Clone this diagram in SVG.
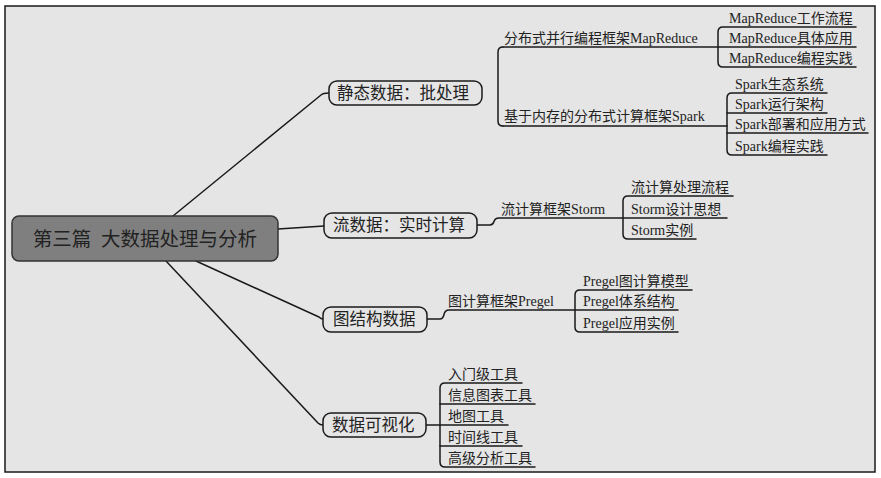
<svg xmlns="http://www.w3.org/2000/svg" width="881" height="478" viewBox="0 0 881 478">
<style>
.ln{fill:none;stroke:#1a1a1a;stroke-width:1.5;stroke-linecap:round;stroke-linejoin:round}
.box{fill:#e5e5e5;stroke:#1a1a1a;stroke-width:1.5}
.t{font-family:"Liberation Serif","Noto Sans CJK SC",serif;fill:#222}
.c{font-size:14px}
.m{font-size:16.5px}
</style>
<rect x="0" y="0" width="881" height="478" fill="#ffffff"/>
<rect x="5" y="6" width="870" height="466" fill="#e5e5e5" stroke="#1a1a1a" stroke-width="1.5"/>

<g id="connectors">
  <path class="ln" d="M173,216 L321,95 Q323,93 329,93"/>
  <path class="ln" d="M278,229 L324,226"/>
  <path class="ln" d="M196,261 L319,317 Q321,319 323,319"/>
  <path class="ln" d="M166,261 L318,423 Q320,425 323,425"/>
  <!-- static bracket -->
  <path class="ln" d="M503,47 Q498,47 498,52 V121 Q498,126 503,126"/>
  <path class="ln" d="M503,47 H856"/>
  <path class="ln" d="M503,126 H727"/>
  <!-- MapReduce bracket -->
  <path class="ln" d="M856,27 H723 Q718,27 718,32 V62 Q718,67 723,67 H856"/>
  <!-- Spark bracket -->
  <path class="ln" d="M827,93 H732 Q727,93 727,98 V150 Q727,155 732,155 H827"/>
  <path class="ln" d="M727,113 H827"/>
  <path class="ln" d="M727,133 H868"/>
  <!-- Storm -->
  <path class="ln" d="M477,225 H490 Q493,225 494,221.5 Q495,218 499,218 H727"/>
  <path class="ln" d="M733,196 H628 Q623,196 623,201 V234 Q623,239 628,239 H696"/>
  <!-- Pregel -->
  <path class="ln" d="M427,319 H440 Q443,319 444,314.5 Q445,310 449,310 H678"/>
  <path class="ln" d="M692,290 H580 Q575,290 575,295 V327 Q575,332 580,332 H678"/>
  <!-- Vis -->
  <path class="ln" d="M426,425 H508"/>
  <path class="ln" d="M522,383 H445 Q440,383 440,388 V462 Q440,467 445,467 H535"/>
  <path class="ln" d="M440,404 H535"/>
  <path class="ln" d="M440,446 H522"/>
</g>

<g id="root">
  <rect x="12" y="216" width="266" height="45" rx="7" fill="#7f7f7f" stroke="#333" stroke-width="1.5"/>
  <text class="t" x="145" y="246" font-size="19.5" text-anchor="middle" xml:space="preserve">第三篇  大数据处理与分析</text>
</g>

<g id="n-static">
  <rect class="box" x="329" y="81" width="153" height="24" rx="8"/>
  <text class="t m" x="337" y="99">静态数据：批处理</text>
</g>
<g id="n-mapreduce"><text class="t c" x="504" y="43">分布式并行编程框架MapReduce</text></g>
<g id="n-mr1"><text class="t c" x="729" y="23">MapReduce工作流程</text></g>
<g id="n-mr2"><text class="t c" x="729" y="43">MapReduce具体应用</text></g>
<g id="n-mr3"><text class="t c" x="729" y="63">MapReduce编程实践</text></g>
<g id="n-spark"><text class="t c" x="504" y="121">基于内存的分布式计算框架Spark</text></g>
<g id="n-sp1"><text class="t c" x="735" y="89">Spark生态系统</text></g>
<g id="n-sp2"><text class="t c" x="735" y="109">Spark运行架构</text></g>
<g id="n-sp3"><text class="t c" x="735" y="129">Spark部署和应用方式</text></g>
<g id="n-sp4"><text class="t c" x="735" y="151">Spark编程实践</text></g>

<g id="n-stream">
  <rect class="box" x="324" y="213" width="153" height="25" rx="8"/>
  <text class="t m" x="333" y="231">流数据：实时计算</text>
</g>
<g id="n-storm"><text class="t c" x="501" y="214">流计算框架Storm</text></g>
<g id="n-st1"><text class="t c" x="631" y="192">流计算处理流程</text></g>
<g id="n-st2"><text class="t c" x="631" y="214">Storm设计思想</text></g>
<g id="n-st3"><text class="t c" x="631" y="235">Storm实例</text></g>

<g id="n-graph">
  <rect class="box" x="323" y="307" width="104" height="25" rx="8"/>
  <text class="t m" x="333" y="325">图结构数据</text>
</g>
<g id="n-pregel"><text class="t c" x="448" y="306">图计算框架Pregel</text></g>
<g id="n-pr1"><text class="t c" x="583" y="286">Pregel图计算模型</text></g>
<g id="n-pr2"><text class="t c" x="583" y="306">Pregel体系结构</text></g>
<g id="n-pr3"><text class="t c" x="583" y="328">Pregel应用实例</text></g>

<g id="n-vis">
  <rect class="box" x="323" y="413" width="103" height="24" rx="8"/>
  <text class="t m" x="332" y="431">数据可视化</text>
</g>
<g id="n-v1"><text class="t c" x="448" y="379">入门级工具</text></g>
<g id="n-v2"><text class="t c" x="448" y="400">信息图表工具</text></g>
<g id="n-v3"><text class="t c" x="448" y="421">地图工具</text></g>
<g id="n-v4"><text class="t c" x="448" y="442">时间线工具</text></g>
<g id="n-v5"><text class="t c" x="448" y="463">高级分析工具</text></g>
</svg>
